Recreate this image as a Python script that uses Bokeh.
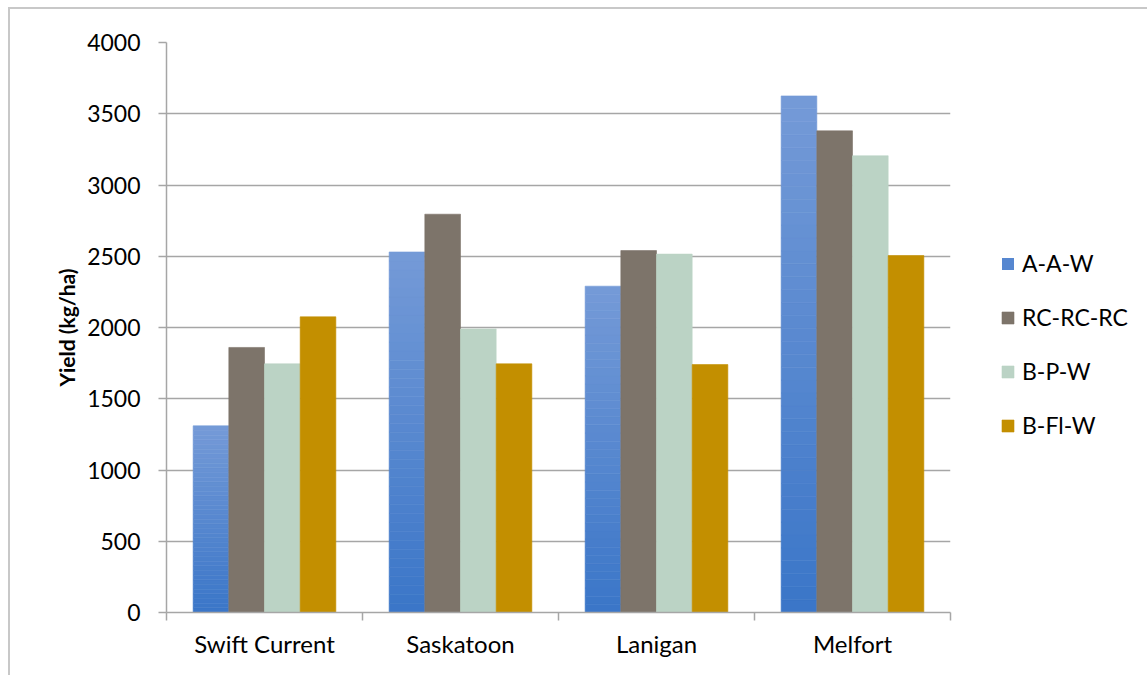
from bokeh.plotting import figure
from bokeh.models import Legend, LegendItem, FixedTicker
from bokeh.embed import file_html
from bokeh.resources import INLINE

sites = ["Swift Current", "Saskatoon", "Lanigan", "Melfort"]
series = ["A-A-W", "RC-RC-RC", "B-P-W", "B-Fl-W"]
aaw = [1310, 2530, 2290, 3625]
rcrcrc = [1860, 2795, 2540, 3380]
bpw = [1745, 1990, 2515, 3205]
bflw = [2075, 1745, 1740, 2505]
y_ticks = [0, 500, 1000, 1500, 2000, 2500, 3000, 3500, 4000]

colors = ["#5687D0", "#7D746A", "#BBD3C5", "#C38F00"]
grad_top = (0x74, 0x9A, 0xD7)
grad_bot = (0x3B, 0x76, 0xC8)

FONT = "Lato"
W, H = 1147, 675
p = figure(frame_width=784, frame_height=570, output_backend="svg", toolbar_location=None,
           x_range=(0, len(sites)), y_range=(0, 4000),
           min_border_left=166 - 8 - 2, min_border_right=W - 950 - 10,
           min_border_top=42 - 7 - 2, min_border_bottom=H - 612)
p.outline_line_color = None
p.background_fill_color = "white"
p.border_fill_color = "white"

bw = 0.182
offsets = [-1.5 * bw, -0.5 * bw, 0.5 * bw, 1.5 * bw]
centers = [i + 0.5 for i in range(len(sites))]

# gradient A-A-W bars drawn as slices of each bar
N = 40
xs, bots, tops, cols = [], [], [], []
for c, v in zip(centers, aaw):
    for k in range(N):
        t = k / (N - 1)
        rgb = tuple(int(round(grad_bot[j] + (grad_top[j] - grad_bot[j]) * t)) for j in range(3))
        xs.append(c + offsets[0])
        bots.append(v * k / N)
        tops.append(v * (k + 1) / N)
        cols.append("#%02x%02x%02x" % rgb)
p.vbar(x=xs, bottom=bots, top=tops, width=bw, fill_color=cols, line_color=cols, line_width=0.6)

renderers = []
dummy = p.vbar(x=[-10], top=[0], width=bw, fill_color=colors[0], line_color=None)
renderers.append(dummy)
for idx, vals in enumerate([rcrcrc, bpw, bflw], start=1):
    r = p.vbar(x=[c + offsets[idx] for c in centers], top=vals, width=bw,
               fill_color=colors[idx], line_color=colors[idx], line_width=0.6)
    renderers.append(r)

# axes
p.yaxis.ticker = FixedTicker(ticks=y_ticks)
p.yaxis.axis_line_color = "#A6A6A6"
p.yaxis.axis_line_width = 1.5
p.yaxis.major_tick_line_color = "#A6A6A6"
p.yaxis.major_tick_line_width = 1.5
p.yaxis.major_tick_out = 8
p.yaxis.major_tick_in = 0
p.yaxis.minor_tick_line_color = None
p.yaxis.major_label_text_font = FONT
p.yaxis.major_label_text_font_size = "23px"
p.yaxis.major_label_text_color = "black"
p.yaxis.major_label_standoff = 18
p.yaxis.axis_label = "Yield (kg/ha)"
p.yaxis.axis_label_text_font = FONT
p.yaxis.axis_label_text_font_style = "bold"
p.yaxis.axis_label_text_font_size = "21px"
p.yaxis.axis_label_text_color = "black"
p.yaxis.axis_label_standoff = 5

p.xaxis.ticker = FixedTicker(ticks=centers, minor_ticks=list(range(len(sites) + 1)))
p.xaxis.major_label_overrides = {c: s for c, s in zip(centers, sites)}
p.xaxis.axis_line_color = "#A6A6A6"
p.xaxis.axis_line_width = 1.5
p.xaxis.major_tick_line_color = None
p.xaxis.minor_tick_line_color = "#A6A6A6"
p.xaxis.minor_tick_line_width = 1.5
p.xaxis.minor_tick_out = 8
p.xaxis.minor_tick_in = 0
p.xaxis.major_label_text_font = FONT
p.xaxis.major_label_text_font_size = "24px"
p.xaxis.major_label_text_color = "black"
p.xaxis.major_label_standoff = 8

p.xgrid.grid_line_color = None
p.ygrid.ticker = FixedTicker(ticks=y_ticks)
p.ygrid.grid_line_color = "#A6A6A6"
p.ygrid.grid_line_width = 1.5

legend = Legend(items=[LegendItem(label=s, renderers=[r]) for s, r in zip(series, renderers)],
                location=(50, 173), orientation="vertical",
                label_text_font=FONT, label_text_font_size="23px", label_text_color="black",
                glyph_width=15, glyph_height=15, spacing=26, padding=0, margin=0,
                label_standoff=7, border_line_color=None, background_fill_alpha=0)
p.add_layout(legend, "right")

p.margin = (7, 0, 0, 8)
p.styles = {"border-top": "2px solid #C8C8C8", "border-left": "2px solid #C8C8C8"}

open("out.html", "w").write(file_html(p, INLINE))
